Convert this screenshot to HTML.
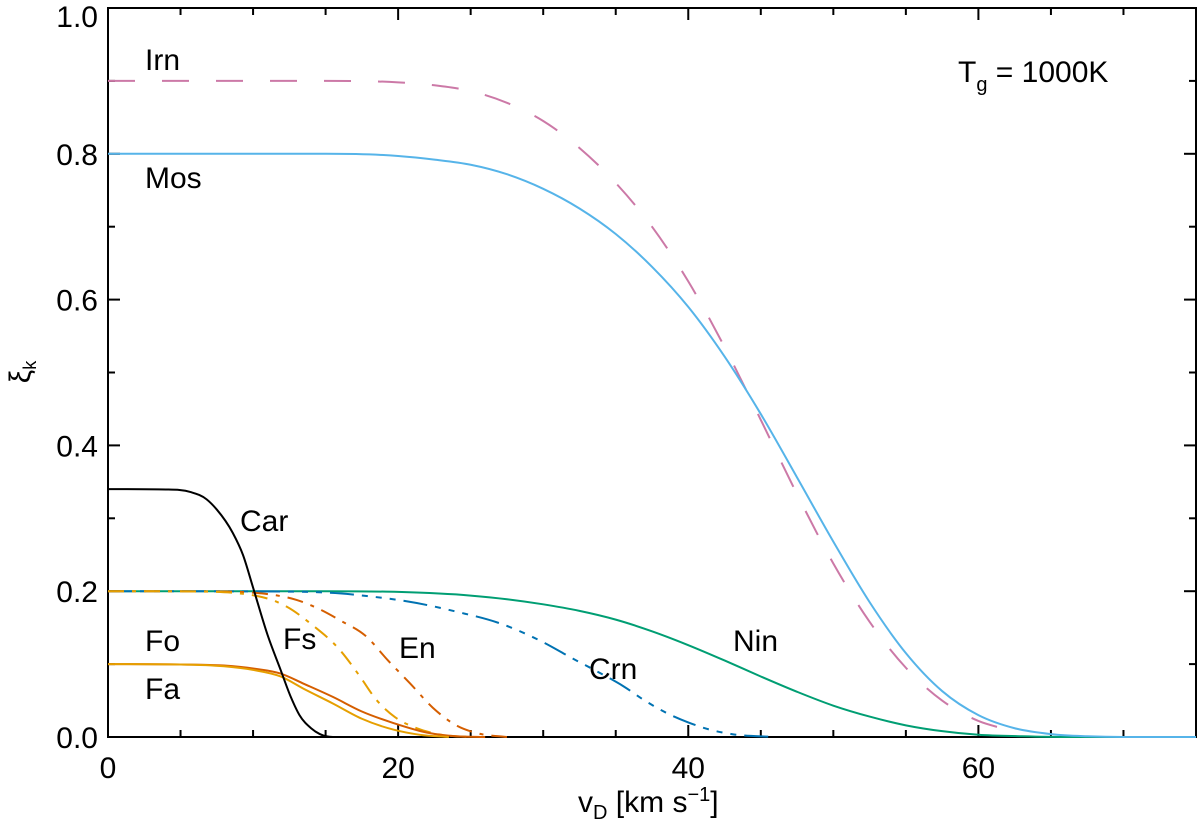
<!DOCTYPE html>
<html><head><meta charset="utf-8"><style>
body{margin:0;background:#fff}
svg{display:block;font-family:"Liberation Sans",Arial,sans-serif}
</style></head><body>
<svg id="chart" width="1200" height="821" viewBox="0 0 1200 821" xmlns="http://www.w3.org/2000/svg" style="position:absolute;left:0;top:0">
<g id="grid-layer"></g>
<g id="series-layer"></g>
<g id="label-layer"></g>
</svg>
<script>
const xTicks = [0, 20, 40, 60];
const yTicks = [0.0, 0.2, 0.4, 0.6, 0.8, 1.0];
const yTickLabels = ["0.0", "0.2", "0.4", "0.6", "0.8", "1.0"];
const irnV = [0, 15, 20, 22.5, 25, 27.5, 30, 32.5, 35, 37.5, 40, 42.5, 45, 47.5, 50, 52.5, 55, 57.5, 60, 62];
const irnY = [0.9, 0.9, 0.898, 0.894, 0.886, 0.87, 0.845, 0.808, 0.76, 0.7, 0.625, 0.535, 0.435, 0.333, 0.238, 0.158, 0.095, 0.05, 0.022, 0.01];
const mosV = [0, 15, 20, 22.5, 25, 27.5, 30, 32.5, 35, 37.5, 40, 42.5, 45, 47.5, 50, 52.5, 55, 57.5, 60, 62.5, 65, 67.5, 70, 75];
const mosY = [0.8, 0.8, 0.797, 0.792, 0.785, 0.772, 0.752, 0.725, 0.69, 0.645, 0.59, 0.522, 0.443, 0.356, 0.268, 0.185, 0.115, 0.063, 0.03, 0.012, 0.004, 0.001, 0, 0];
const ninV = [0, 15, 20, 25, 27.5, 30, 32.5, 35, 37.5, 40, 42.5, 45, 47.5, 50, 52.5, 55, 57.5, 60, 63, 66, 75];
const ninY = [0.2, 0.2, 0.199, 0.194, 0.189, 0.182, 0.173, 0.161, 0.145, 0.126, 0.105, 0.083, 0.062, 0.043, 0.028, 0.016, 0.008, 0.003, 0.001, 0, 0];
const crnV = [0, 12, 14, 16, 18, 20, 22, 24, 27, 30, 32, 33.9, 35.5, 37, 38.5, 40, 41.5, 43, 46];
const crnY = [0.2, 0.1995, 0.199, 0.197, 0.193, 0.188, 0.181, 0.172, 0.156, 0.13, 0.108, 0.088, 0.07, 0.05, 0.033, 0.02, 0.01, 0.004, 0];
const enV = [0, 8, 10, 11.4, 13, 14.4, 16, 17.8, 19.3, 20.8, 22.4, 24, 25.5, 27.5];
const enY = [0.2, 0.1995, 0.198, 0.195, 0.188, 0.177, 0.16, 0.138, 0.105, 0.074, 0.04, 0.016, 0.005, 0];
const fsV = [0, 6, 8.5, 10.1, 11.3, 12.3, 14, 16, 17.3, 18.5, 19.8, 21.3, 23, 25];
const fsY = [0.2, 0.1995, 0.198, 0.194, 0.188, 0.179, 0.155, 0.119, 0.085, 0.051, 0.027, 0.012, 0.003, 0];
const foV = [0, 5, 8, 10, 11.9, 13.5, 15.5, 17.5, 19.7, 22, 24, 26];
const foY = [0.1, 0.0995, 0.098, 0.094, 0.087, 0.073, 0.055, 0.035, 0.019, 0.006, 0.001, 0];
const faV = [0, 5, 8, 10, 11.9, 13.5, 15.5, 17.5, 19.7, 21.5, 23.5];
const faY = [0.1, 0.0995, 0.097, 0.092, 0.083, 0.066, 0.046, 0.025, 0.01, 0.003, 0];
const carV = [0, 4, 5.7, 6.8, 7.5, 8.6, 9.3, 10, 11, 11.9, 12.6, 13.2, 14, 14.6, 15.5, 18];
const carY = [0.34, 0.3395, 0.336, 0.326, 0.312, 0.28, 0.25, 0.205, 0.14, 0.092, 0.055, 0.03, 0.012, 0.004, 0, 0];

const L=108, R=1196, T=8, B=737, XMAX=75;
const sx = v => L + v/XMAX*(R-L);
const sy = y => B - y*(B-T);
const NS='http://www.w3.org/2000/svg';
function mk(tag, attrs, parent){const e=document.createElementNS(NS,tag);for(const k in attrs)e.setAttribute(k,attrs[k]);parent.appendChild(e);return e;}
const g=document.getElementById('grid-layer'), s=document.getElementById('series-layer'), lb=document.getElementById('label-layer');

function monotone(xs, ys){
  const n=xs.length, d=[], m=new Array(n);
  for(let i=0;i<n-1;i++) d.push((ys[i+1]-ys[i])/(xs[i+1]-xs[i]));
  m[0]=d[0]; m[n-1]=d[n-2];
  for(let i=1;i<n-1;i++){
    if(d[i-1]*d[i]<=0){m[i]=0;continue;}
    const h0=xs[i]-xs[i-1], h1=xs[i+1]-xs[i];
    m[i]=(d[i-1]*h1+d[i]*h0)/(h0+h1);
  }
  for(let i=0;i<n-1;i++){ if(d[i]===0){m[i]=0;m[i+1]=0;continue;} const a=m[i]/d[i], b=m[i+1]/d[i], h=a*a+b*b; if(h>9){const t=3/Math.sqrt(h); m[i]=t*a*d[i]; m[i+1]=t*b*d[i];} }
  let p='M'+sx(xs[0]).toFixed(2)+','+sy(ys[0]).toFixed(2);
  for(let i=0;i<n-1;i++){const h=xs[i+1]-xs[i];
    p+=' C'+sx(xs[i]+h/3).toFixed(2)+','+sy(ys[i]+m[i]*h/3).toFixed(2)+' '+sx(xs[i+1]-h/3).toFixed(2)+','+sy(ys[i+1]-m[i+1]*h/3).toFixed(2)+' '+sx(xs[i+1]).toFixed(2)+','+sy(ys[i+1]).toFixed(2);}
  return p;
}
function series(name, xs, ys, color, dash){
  const p=mk('path',{d:monotone(xs,ys),fill:'none',stroke:color,'stroke-width':2,'stroke-dasharray':dash||'none'},s);
  
  
}
series('line-nin', ninV, ninY, '#009e73');
series('line-crn', crnV, crnY, '#0072b2', '24 8 6 8 6 8 6 8');
series('line-en', enV, enY, '#d55e00', '16 8 4 8');
series('line-fs', fsV, fsY, '#e69f00', '16 8 4 8');
series('line-fo', foV, foY, '#d55e00');
series('line-fa', faV, faY, '#e69f00');
series('line-car', carV, carY, '#000');
series('line-irn', irnV, irnY, '#cc79a7', '27 27');
series('line-mos', mosV, mosY, '#56b4e9');

const fr=mk('rect',{x:L,y:T,width:R-L,height:B-T,fill:'none',stroke:'#000','stroke-width':2},g);


for(let v=0; v<=XMAX; v+=5){
  const major = v%20===0, len = major?12:7, x=sx(v);
  mk('line',{x1:x,y1:B,x2:x,y2:B-len,stroke:'#000','stroke-width':2},g);
  mk('line',{x1:x,y1:T,x2:x,y2:T+len,stroke:'#000','stroke-width':2},g);
}
for(let i=0;i<=10;i++){
  const y=sy(i/10), major=i%2===0, len=major?12:7;
  mk('line',{x1:L,y1:y,x2:L+len,y2:y,stroke:'#000','stroke-width':2},g);
  mk('line',{x1:R,y1:y,x2:R-len,y2:y,stroke:'#000','stroke-width':2},g);
}
xTicks.forEach(v=>{
  const t=mk('text',{x:sx(v),y:778,'font-size':30,'text-anchor':'middle'},lb); t.textContent=String(v);
  
  
});
yTicks.forEach((v,i)=>{
  const yy = v>=1 ? 27 : sy(v)+11;
  const t=mk('text',{x:98,y:yy,'font-size':30,'text-anchor':'end'},lb); t.textContent=yTickLabels[i];
  
  
});
</script>
<svg style="position:absolute;left:0;top:0" width="1200" height="821" font-family="Liberation Sans, Arial, sans-serif">
<text x="578" y="812" font-size="30">v<tspan font-size="20" dy="7">D</tspan><tspan dy="-7"> [km s</tspan><tspan font-size="20" dy="-11">−1</tspan><tspan dy="11">]</tspan></text>
<text transform="translate(30,372) rotate(-90)" font-size="30" text-anchor="middle">ξ<tspan font-size="18" dy="6">k</tspan></text>
<text x="958" y="82" font-size="30">T<tspan font-size="20" dy="9">g</tspan><tspan dy="-9"> = 1000K</tspan></text>
<g font-size="30">
<text x="145" y="70">Irn</text>
<text x="145" y="188">Mos</text>
<text x="240" y="531">Car</text>
<text x="145" y="651">Fo</text>
<text x="145" y="699">Fa</text>
<text x="283" y="649">Fs</text>
<text x="399" y="658">En</text>
<text x="589" y="679">Crn</text>
<text x="733" y="651">Nin</text>
</g>
</svg>
</body></html>
